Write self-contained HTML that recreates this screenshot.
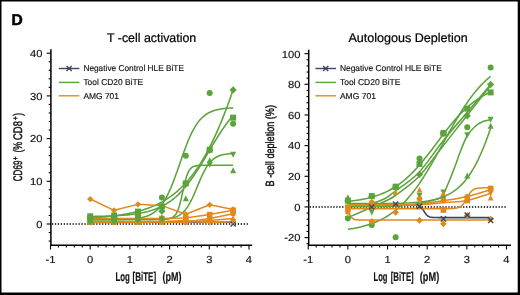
<!DOCTYPE html>
<html><head><meta charset="utf-8"><style>
html,body{margin:0;padding:0;background:#fff;}
svg{display:block;will-change:transform;}
text{font-family:"Liberation Sans",sans-serif;fill:#111;stroke:#111;stroke-width:0.15px;text-rendering:geometricPrecision;}
.nb{stroke-width:0;}
.md{stroke-width:0.45px;}
.dd{fill:#000;stroke:#000;stroke-width:0.55px;}
</style></head><body>
<svg width="520" height="295" viewBox="0 0 520 295">
<rect width="520" height="295" fill="#fff"/>
<path d="M0 0H520V295H0Z M1.5 1.5V292.6H517.7V1.5Z" fill="#000" fill-rule="evenodd"/>
<text x="11.50" y="25.10" font-size="15.60" font-weight="bold" class="dd">D</text>
<line x1="50.90" y1="49.30" x2="50.90" y2="246.05" stroke="#000" stroke-width="1.5"/>
<line x1="50.15" y1="245.30" x2="252.20" y2="245.30" stroke="#000" stroke-width="1.5"/>
<line x1="48.70" y1="241.08" x2="50.90" y2="241.08" stroke="#000" stroke-width="1.1"/>
<line x1="48.70" y1="232.54" x2="50.90" y2="232.54" stroke="#000" stroke-width="1.1"/>
<line x1="46.70" y1="224.00" x2="50.90" y2="224.00" stroke="#000" stroke-width="1.1"/>
<line x1="48.70" y1="215.46" x2="50.90" y2="215.46" stroke="#000" stroke-width="1.1"/>
<line x1="48.70" y1="206.92" x2="50.90" y2="206.92" stroke="#000" stroke-width="1.1"/>
<line x1="48.70" y1="198.38" x2="50.90" y2="198.38" stroke="#000" stroke-width="1.1"/>
<line x1="48.70" y1="189.84" x2="50.90" y2="189.84" stroke="#000" stroke-width="1.1"/>
<line x1="46.70" y1="181.30" x2="50.90" y2="181.30" stroke="#000" stroke-width="1.1"/>
<line x1="48.70" y1="172.76" x2="50.90" y2="172.76" stroke="#000" stroke-width="1.1"/>
<line x1="48.70" y1="164.22" x2="50.90" y2="164.22" stroke="#000" stroke-width="1.1"/>
<line x1="48.70" y1="155.68" x2="50.90" y2="155.68" stroke="#000" stroke-width="1.1"/>
<line x1="48.70" y1="147.14" x2="50.90" y2="147.14" stroke="#000" stroke-width="1.1"/>
<line x1="46.70" y1="138.60" x2="50.90" y2="138.60" stroke="#000" stroke-width="1.1"/>
<line x1="48.70" y1="130.06" x2="50.90" y2="130.06" stroke="#000" stroke-width="1.1"/>
<line x1="48.70" y1="121.52" x2="50.90" y2="121.52" stroke="#000" stroke-width="1.1"/>
<line x1="48.70" y1="112.98" x2="50.90" y2="112.98" stroke="#000" stroke-width="1.1"/>
<line x1="48.70" y1="104.44" x2="50.90" y2="104.44" stroke="#000" stroke-width="1.1"/>
<line x1="46.70" y1="95.90" x2="50.90" y2="95.90" stroke="#000" stroke-width="1.1"/>
<line x1="48.70" y1="87.36" x2="50.90" y2="87.36" stroke="#000" stroke-width="1.1"/>
<line x1="48.70" y1="78.82" x2="50.90" y2="78.82" stroke="#000" stroke-width="1.1"/>
<line x1="48.70" y1="70.28" x2="50.90" y2="70.28" stroke="#000" stroke-width="1.1"/>
<line x1="48.70" y1="61.74" x2="50.90" y2="61.74" stroke="#000" stroke-width="1.1"/>
<line x1="46.70" y1="53.20" x2="50.90" y2="53.20" stroke="#000" stroke-width="1.1"/>
<line x1="50.50" y1="245.30" x2="50.50" y2="249.50" stroke="#000" stroke-width="1.1"/>
<line x1="58.44" y1="245.30" x2="58.44" y2="247.50" stroke="#000" stroke-width="1.1"/>
<line x1="66.38" y1="245.30" x2="66.38" y2="247.50" stroke="#000" stroke-width="1.1"/>
<line x1="74.32" y1="245.30" x2="74.32" y2="247.50" stroke="#000" stroke-width="1.1"/>
<line x1="82.26" y1="245.30" x2="82.26" y2="247.50" stroke="#000" stroke-width="1.1"/>
<line x1="90.20" y1="245.30" x2="90.20" y2="249.50" stroke="#000" stroke-width="1.1"/>
<line x1="98.14" y1="245.30" x2="98.14" y2="247.50" stroke="#000" stroke-width="1.1"/>
<line x1="106.08" y1="245.30" x2="106.08" y2="247.50" stroke="#000" stroke-width="1.1"/>
<line x1="114.02" y1="245.30" x2="114.02" y2="247.50" stroke="#000" stroke-width="1.1"/>
<line x1="121.96" y1="245.30" x2="121.96" y2="247.50" stroke="#000" stroke-width="1.1"/>
<line x1="129.90" y1="245.30" x2="129.90" y2="249.50" stroke="#000" stroke-width="1.1"/>
<line x1="137.84" y1="245.30" x2="137.84" y2="247.50" stroke="#000" stroke-width="1.1"/>
<line x1="145.78" y1="245.30" x2="145.78" y2="247.50" stroke="#000" stroke-width="1.1"/>
<line x1="153.72" y1="245.30" x2="153.72" y2="247.50" stroke="#000" stroke-width="1.1"/>
<line x1="161.66" y1="245.30" x2="161.66" y2="247.50" stroke="#000" stroke-width="1.1"/>
<line x1="169.60" y1="245.30" x2="169.60" y2="249.50" stroke="#000" stroke-width="1.1"/>
<line x1="177.54" y1="245.30" x2="177.54" y2="247.50" stroke="#000" stroke-width="1.1"/>
<line x1="185.48" y1="245.30" x2="185.48" y2="247.50" stroke="#000" stroke-width="1.1"/>
<line x1="193.42" y1="245.30" x2="193.42" y2="247.50" stroke="#000" stroke-width="1.1"/>
<line x1="201.36" y1="245.30" x2="201.36" y2="247.50" stroke="#000" stroke-width="1.1"/>
<line x1="209.30" y1="245.30" x2="209.30" y2="249.50" stroke="#000" stroke-width="1.1"/>
<line x1="217.24" y1="245.30" x2="217.24" y2="247.50" stroke="#000" stroke-width="1.1"/>
<line x1="225.18" y1="245.30" x2="225.18" y2="247.50" stroke="#000" stroke-width="1.1"/>
<line x1="233.12" y1="245.30" x2="233.12" y2="247.50" stroke="#000" stroke-width="1.1"/>
<line x1="241.06" y1="245.30" x2="241.06" y2="247.50" stroke="#000" stroke-width="1.1"/>
<line x1="249.00" y1="245.30" x2="249.00" y2="249.50" stroke="#000" stroke-width="1.1"/>
<line x1="51.90" y1="224.10" x2="249.00" y2="224.10" stroke="#000" stroke-width="1.5" stroke-dasharray="1.3 1.65"/>
<line x1="308.70" y1="49.75" x2="308.70" y2="246.05" stroke="#000" stroke-width="1.5"/>
<line x1="307.95" y1="245.30" x2="511.00" y2="245.30" stroke="#000" stroke-width="1.5"/>
<line x1="306.50" y1="243.74" x2="308.70" y2="243.74" stroke="#000" stroke-width="1.1"/>
<line x1="304.50" y1="237.61" x2="308.70" y2="237.61" stroke="#000" stroke-width="1.1"/>
<line x1="306.50" y1="231.48" x2="308.70" y2="231.48" stroke="#000" stroke-width="1.1"/>
<line x1="306.50" y1="225.35" x2="308.70" y2="225.35" stroke="#000" stroke-width="1.1"/>
<line x1="306.50" y1="219.21" x2="308.70" y2="219.21" stroke="#000" stroke-width="1.1"/>
<line x1="306.50" y1="213.08" x2="308.70" y2="213.08" stroke="#000" stroke-width="1.1"/>
<line x1="304.50" y1="206.95" x2="308.70" y2="206.95" stroke="#000" stroke-width="1.1"/>
<line x1="306.50" y1="200.82" x2="308.70" y2="200.82" stroke="#000" stroke-width="1.1"/>
<line x1="306.50" y1="194.69" x2="308.70" y2="194.69" stroke="#000" stroke-width="1.1"/>
<line x1="306.50" y1="188.55" x2="308.70" y2="188.55" stroke="#000" stroke-width="1.1"/>
<line x1="306.50" y1="182.42" x2="308.70" y2="182.42" stroke="#000" stroke-width="1.1"/>
<line x1="304.50" y1="176.29" x2="308.70" y2="176.29" stroke="#000" stroke-width="1.1"/>
<line x1="306.50" y1="170.16" x2="308.70" y2="170.16" stroke="#000" stroke-width="1.1"/>
<line x1="306.50" y1="164.03" x2="308.70" y2="164.03" stroke="#000" stroke-width="1.1"/>
<line x1="306.50" y1="157.89" x2="308.70" y2="157.89" stroke="#000" stroke-width="1.1"/>
<line x1="306.50" y1="151.76" x2="308.70" y2="151.76" stroke="#000" stroke-width="1.1"/>
<line x1="304.50" y1="145.63" x2="308.70" y2="145.63" stroke="#000" stroke-width="1.1"/>
<line x1="306.50" y1="139.50" x2="308.70" y2="139.50" stroke="#000" stroke-width="1.1"/>
<line x1="306.50" y1="133.37" x2="308.70" y2="133.37" stroke="#000" stroke-width="1.1"/>
<line x1="306.50" y1="127.23" x2="308.70" y2="127.23" stroke="#000" stroke-width="1.1"/>
<line x1="306.50" y1="121.10" x2="308.70" y2="121.10" stroke="#000" stroke-width="1.1"/>
<line x1="304.50" y1="114.97" x2="308.70" y2="114.97" stroke="#000" stroke-width="1.1"/>
<line x1="306.50" y1="108.84" x2="308.70" y2="108.84" stroke="#000" stroke-width="1.1"/>
<line x1="306.50" y1="102.71" x2="308.70" y2="102.71" stroke="#000" stroke-width="1.1"/>
<line x1="306.50" y1="96.57" x2="308.70" y2="96.57" stroke="#000" stroke-width="1.1"/>
<line x1="306.50" y1="90.44" x2="308.70" y2="90.44" stroke="#000" stroke-width="1.1"/>
<line x1="304.50" y1="84.31" x2="308.70" y2="84.31" stroke="#000" stroke-width="1.1"/>
<line x1="306.50" y1="78.18" x2="308.70" y2="78.18" stroke="#000" stroke-width="1.1"/>
<line x1="306.50" y1="72.05" x2="308.70" y2="72.05" stroke="#000" stroke-width="1.1"/>
<line x1="306.50" y1="65.91" x2="308.70" y2="65.91" stroke="#000" stroke-width="1.1"/>
<line x1="306.50" y1="59.78" x2="308.70" y2="59.78" stroke="#000" stroke-width="1.1"/>
<line x1="304.50" y1="53.65" x2="308.70" y2="53.65" stroke="#000" stroke-width="1.1"/>
<line x1="308.25" y1="245.30" x2="308.25" y2="249.50" stroke="#000" stroke-width="1.1"/>
<line x1="316.18" y1="245.30" x2="316.18" y2="247.50" stroke="#000" stroke-width="1.1"/>
<line x1="324.11" y1="245.30" x2="324.11" y2="247.50" stroke="#000" stroke-width="1.1"/>
<line x1="332.04" y1="245.30" x2="332.04" y2="247.50" stroke="#000" stroke-width="1.1"/>
<line x1="339.97" y1="245.30" x2="339.97" y2="247.50" stroke="#000" stroke-width="1.1"/>
<line x1="347.90" y1="245.30" x2="347.90" y2="249.50" stroke="#000" stroke-width="1.1"/>
<line x1="355.83" y1="245.30" x2="355.83" y2="247.50" stroke="#000" stroke-width="1.1"/>
<line x1="363.76" y1="245.30" x2="363.76" y2="247.50" stroke="#000" stroke-width="1.1"/>
<line x1="371.69" y1="245.30" x2="371.69" y2="247.50" stroke="#000" stroke-width="1.1"/>
<line x1="379.62" y1="245.30" x2="379.62" y2="247.50" stroke="#000" stroke-width="1.1"/>
<line x1="387.55" y1="245.30" x2="387.55" y2="249.50" stroke="#000" stroke-width="1.1"/>
<line x1="395.48" y1="245.30" x2="395.48" y2="247.50" stroke="#000" stroke-width="1.1"/>
<line x1="403.41" y1="245.30" x2="403.41" y2="247.50" stroke="#000" stroke-width="1.1"/>
<line x1="411.34" y1="245.30" x2="411.34" y2="247.50" stroke="#000" stroke-width="1.1"/>
<line x1="419.27" y1="245.30" x2="419.27" y2="247.50" stroke="#000" stroke-width="1.1"/>
<line x1="427.20" y1="245.30" x2="427.20" y2="249.50" stroke="#000" stroke-width="1.1"/>
<line x1="435.13" y1="245.30" x2="435.13" y2="247.50" stroke="#000" stroke-width="1.1"/>
<line x1="443.06" y1="245.30" x2="443.06" y2="247.50" stroke="#000" stroke-width="1.1"/>
<line x1="450.99" y1="245.30" x2="450.99" y2="247.50" stroke="#000" stroke-width="1.1"/>
<line x1="458.92" y1="245.30" x2="458.92" y2="247.50" stroke="#000" stroke-width="1.1"/>
<line x1="466.85" y1="245.30" x2="466.85" y2="249.50" stroke="#000" stroke-width="1.1"/>
<line x1="474.78" y1="245.30" x2="474.78" y2="247.50" stroke="#000" stroke-width="1.1"/>
<line x1="482.71" y1="245.30" x2="482.71" y2="247.50" stroke="#000" stroke-width="1.1"/>
<line x1="490.64" y1="245.30" x2="490.64" y2="247.50" stroke="#000" stroke-width="1.1"/>
<line x1="498.57" y1="245.30" x2="498.57" y2="247.50" stroke="#000" stroke-width="1.1"/>
<line x1="506.50" y1="245.30" x2="506.50" y2="249.50" stroke="#000" stroke-width="1.1"/>
<line x1="309.70" y1="207.05" x2="506.50" y2="207.05" stroke="#000" stroke-width="1.5" stroke-dasharray="1.3 1.65"/>
<text x="36.37" y="227.85" font-size="10.20" textLength="6.23" lengthAdjust="spacingAndGlyphs">0</text>
<text x="30.14" y="185.15" font-size="10.20" textLength="12.46" lengthAdjust="spacingAndGlyphs">10</text>
<text x="30.14" y="142.45" font-size="10.20" textLength="12.46" lengthAdjust="spacingAndGlyphs">20</text>
<text x="30.14" y="99.75" font-size="10.20" textLength="12.46" lengthAdjust="spacingAndGlyphs">30</text>
<text x="30.14" y="57.05" font-size="10.20" textLength="12.46" lengthAdjust="spacingAndGlyphs">40</text>
<text x="284.21" y="241.46" font-size="10.20" textLength="16.19" lengthAdjust="spacingAndGlyphs">-20</text>
<text x="294.17" y="210.80" font-size="10.20" textLength="6.23" lengthAdjust="spacingAndGlyphs">0</text>
<text x="287.94" y="180.14" font-size="10.20" textLength="12.46" lengthAdjust="spacingAndGlyphs">20</text>
<text x="287.94" y="149.48" font-size="10.20" textLength="12.46" lengthAdjust="spacingAndGlyphs">40</text>
<text x="287.94" y="118.82" font-size="10.20" textLength="12.46" lengthAdjust="spacingAndGlyphs">60</text>
<text x="287.94" y="88.16" font-size="10.20" textLength="12.46" lengthAdjust="spacingAndGlyphs">80</text>
<text x="281.71" y="57.50" font-size="10.20" textLength="18.69" lengthAdjust="spacingAndGlyphs">100</text>
<text x="45.52" y="263.10" font-size="10.20" textLength="9.96" lengthAdjust="spacingAndGlyphs">-1</text>
<text x="303.27" y="263.10" font-size="10.20" textLength="9.96" lengthAdjust="spacingAndGlyphs">-1</text>
<text x="87.09" y="263.10" font-size="10.20" textLength="6.23" lengthAdjust="spacingAndGlyphs">0</text>
<text x="344.79" y="263.10" font-size="10.20" textLength="6.23" lengthAdjust="spacingAndGlyphs">0</text>
<text x="126.79" y="263.10" font-size="10.20" textLength="6.23" lengthAdjust="spacingAndGlyphs">1</text>
<text x="384.44" y="263.10" font-size="10.20" textLength="6.23" lengthAdjust="spacingAndGlyphs">1</text>
<text x="166.49" y="263.10" font-size="10.20" textLength="6.23" lengthAdjust="spacingAndGlyphs">2</text>
<text x="424.09" y="263.10" font-size="10.20" textLength="6.23" lengthAdjust="spacingAndGlyphs">2</text>
<text x="206.19" y="263.10" font-size="10.20" textLength="6.23" lengthAdjust="spacingAndGlyphs">3</text>
<text x="463.74" y="263.10" font-size="10.20" textLength="6.23" lengthAdjust="spacingAndGlyphs">3</text>
<text x="245.89" y="263.10" font-size="10.20" textLength="6.23" lengthAdjust="spacingAndGlyphs">4</text>
<text x="503.39" y="263.10" font-size="10.20" textLength="6.23" lengthAdjust="spacingAndGlyphs">4</text>
<text x="107.00" y="42.20" font-size="12.50" textLength="89.20" lengthAdjust="spacingAndGlyphs" style="stroke-width:0.22px;fill:#000;stroke:#000">T -cell activation</text>
<text x="348.40" y="42.20" font-size="12.50" textLength="119.40" lengthAdjust="spacingAndGlyphs" style="stroke-width:0.22px;fill:#000;stroke:#000">Autologous Depletion</text>
<text x="115.40" y="280.60" font-size="12.70" textLength="14.40" lengthAdjust="spacingAndGlyphs" font-weight="bold">Log</text>
<text x="132.60" y="280.60" font-size="12.70" textLength="23.50" lengthAdjust="spacingAndGlyphs" font-weight="bold">[BiTE]</text>
<text x="162.40" y="280.60" font-size="12.70" textLength="19.00" lengthAdjust="spacingAndGlyphs" font-weight="bold">(pM)</text>
<text x="373.50" y="280.60" font-size="12.70" textLength="14.00" lengthAdjust="spacingAndGlyphs" font-weight="bold">Log</text>
<text x="390.70" y="280.60" font-size="12.70" textLength="23.00" lengthAdjust="spacingAndGlyphs" font-weight="bold">[BiTE]</text>
<text x="419.80" y="280.60" font-size="12.70" textLength="19.40" lengthAdjust="spacingAndGlyphs" font-weight="bold">(pM)</text>
<g transform="translate(21.9,181.2) rotate(-90)" font-size="12.4">
<text class="md" x="0" y="0" textLength="20.6" lengthAdjust="spacingAndGlyphs">CD69</text>
<text class="md" x="21.0" y="-3.8" font-size="8" textLength="3.6" lengthAdjust="spacingAndGlyphs">+</text>
<text class="md" x="28.6" y="0" textLength="10.8" lengthAdjust="spacingAndGlyphs">(%</text>
<text class="md" x="41.2" y="0" textLength="18.9" lengthAdjust="spacingAndGlyphs">CD8</text>
<text class="md" x="61.2" y="-3.8" font-size="8" textLength="3.6" lengthAdjust="spacingAndGlyphs">+</text>
<text class="md" x="65.4" y="0" textLength="2.9" lengthAdjust="spacingAndGlyphs">)</text>
</g>
<text transform="translate(273.9,186.4) rotate(-90)" font-size="12.0" class="md" textLength="81.4" lengthAdjust="spacingAndGlyphs">B -cell depletion (%)</text>
<polyline points="58.80,68.50 79.40,68.50" fill="none" stroke="#3d4560" stroke-width="1.4" stroke-linejoin="round"/>
<path d="M66.50 65.90L71.70 71.10M66.50 71.10L71.70 65.90" stroke="#3d4560" stroke-width="1.4" fill="none"/>
<polyline points="58.80,82.40 79.40,82.40" fill="none" stroke="#5ba33b" stroke-width="1.4" stroke-linejoin="round"/>
<polyline points="58.80,95.80 79.40,95.80" fill="none" stroke="#e0891c" stroke-width="1.4" stroke-linejoin="round"/>
<text x="83.40" y="71.10" font-size="8.50" textLength="100.60" lengthAdjust="spacingAndGlyphs">Negative Control HLE BiTE</text>
<text x="83.40" y="85.00" font-size="8.50" textLength="59.80" lengthAdjust="spacingAndGlyphs">Tool CD20 BiTE</text>
<text x="83.40" y="98.60" font-size="8.50" textLength="35.60" lengthAdjust="spacingAndGlyphs">AMG 701</text>
<polyline points="315.40,68.50 336.00,68.50" fill="none" stroke="#3d4560" stroke-width="1.4" stroke-linejoin="round"/>
<path d="M323.10 65.90L328.30 71.10M323.10 71.10L328.30 65.90" stroke="#3d4560" stroke-width="1.4" fill="none"/>
<polyline points="315.40,82.40 336.00,82.40" fill="none" stroke="#5ba33b" stroke-width="1.4" stroke-linejoin="round"/>
<polyline points="315.40,95.80 336.00,95.80" fill="none" stroke="#e0891c" stroke-width="1.4" stroke-linejoin="round"/>
<text x="339.90" y="71.10" font-size="8.50" textLength="102.00" lengthAdjust="spacingAndGlyphs">Negative Control HLE BiTE</text>
<text x="339.90" y="85.00" font-size="8.50" textLength="60.60" lengthAdjust="spacingAndGlyphs">Tool CD20 BiTE</text>
<text x="339.90" y="98.60" font-size="8.50" textLength="36.00" lengthAdjust="spacingAndGlyphs">AMG 701</text>
<polyline points="90.20,222.08 114.10,222.08 138.00,222.08 161.90,222.08 185.80,222.08 209.70,222.08 233.12,222.08" fill="none" stroke="#3d4560" stroke-width="1.4" stroke-linejoin="round"/>
<polyline points="90.20,219.72 91.99,219.72 93.77,219.71 95.56,219.71 97.35,219.71 99.13,219.70 100.92,219.70 102.71,219.69 104.49,219.68 106.28,219.67 108.06,219.66 109.85,219.65 111.64,219.63 113.42,219.61 115.21,219.59 117.00,219.56 118.78,219.52 120.57,219.48 122.36,219.43 124.14,219.37 125.93,219.30 127.72,219.21 129.50,219.11 131.29,218.98 133.08,218.83 134.86,218.66 136.65,218.44 138.44,218.18 140.22,217.87 142.01,217.51 143.80,217.07 145.58,216.54 147.37,215.92 149.15,215.18 150.94,214.30 152.73,213.26 154.51,212.04 156.30,210.61 158.09,208.94 159.87,207.01 161.66,204.77 163.45,202.22 165.23,199.31 167.02,196.05 168.81,192.42 170.59,188.43 172.38,184.10 174.17,179.47 175.95,174.60 177.74,169.54 179.53,164.38 181.31,159.22 183.10,154.12 184.88,149.18 186.67,144.47 188.46,140.04 190.24,135.94 192.03,132.20 193.82,128.82 195.60,125.81 197.39,123.15 199.18,120.81 200.96,118.79 202.75,117.04 204.54,115.54 206.32,114.25 208.11,113.16 209.90,112.24 211.68,111.46 213.47,110.80 215.25,110.25 217.04,109.78 218.83,109.39 220.61,109.07 222.40,108.79 224.19,108.57 225.97,108.38 227.76,108.22 229.55,108.09 231.33,107.98 233.12,107.88" fill="none" stroke="#5ba33b" stroke-width="1.55" stroke-linejoin="round"/>
<polyline points="90.20,217.93 91.99,217.82 93.77,217.71 95.56,217.59 97.35,217.46 99.13,217.33 100.92,217.18 102.71,217.03 104.49,216.87 106.28,216.70 108.06,216.52 109.85,216.33 111.64,216.13 113.42,215.92 115.21,215.69 117.00,215.46 118.78,215.20 120.57,214.94 122.36,214.65 124.14,214.35 125.93,214.04 127.72,213.70 129.50,213.35 131.29,212.97 133.08,212.57 134.86,212.15 136.65,211.71 138.44,211.24 140.22,210.74 142.01,210.22 143.80,209.67 145.58,209.08 147.37,208.46 149.15,207.81 150.94,207.11 152.73,206.38 154.51,205.61 156.30,204.80 158.09,203.94 159.87,203.04 161.66,202.08 163.45,201.07 165.23,200.01 167.02,198.89 168.81,197.71 170.59,196.47 172.38,195.16 174.17,193.78 175.95,192.33 177.74,190.80 179.53,189.20 181.31,187.52 183.10,185.75 184.88,183.89 186.67,181.94 188.46,179.89 190.24,177.75 192.03,175.50 193.82,173.15 195.60,170.69 197.39,168.12 199.18,165.43 200.96,162.63 202.75,159.70 204.54,156.65 206.32,153.47 208.11,150.17 209.90,146.73 211.68,143.16 213.47,139.45 215.25,135.61 217.04,131.63 218.83,127.52 220.61,123.26 222.40,118.88 224.19,114.35 225.97,109.70 227.76,104.91 229.55,99.99 231.33,94.95 233.12,89.79" fill="none" stroke="#5ba33b" stroke-width="1.55" stroke-linejoin="round"/>
<polyline points="90.20,216.47 91.99,216.45 93.77,216.42 95.56,216.39 97.35,216.35 99.13,216.31 100.92,216.27 102.71,216.23 104.49,216.18 106.28,216.12 108.06,216.06 109.85,215.99 111.64,215.92 113.42,215.84 115.21,215.76 117.00,215.66 118.78,215.56 120.57,215.44 122.36,215.32 124.14,215.18 125.93,215.03 127.72,214.86 129.50,214.68 131.29,214.48 133.08,214.27 134.86,214.03 136.65,213.77 138.44,213.49 140.22,213.18 142.01,212.84 143.80,212.47 145.58,212.07 147.37,211.63 149.15,211.15 150.94,210.63 152.73,210.07 154.51,209.45 156.30,208.78 158.09,208.06 159.87,207.27 161.66,206.42 163.45,205.50 165.23,204.50 167.02,203.43 168.81,202.27 170.59,201.03 172.38,199.70 174.17,198.27 175.95,196.74 177.74,195.12 179.53,193.38 181.31,191.55 183.10,189.60 184.88,187.55 186.67,185.38 188.46,183.12 190.24,180.74 192.03,178.27 193.82,175.70 195.60,173.05 197.39,170.31 199.18,167.50 200.96,164.62 202.75,161.70 204.54,158.73 206.32,155.73 208.11,152.72 209.90,149.71 211.68,146.70 213.47,143.72 215.25,140.77 217.04,137.87 218.83,135.03 220.61,132.26 222.40,129.57 224.19,126.96 225.97,124.44 227.76,122.03 229.55,119.71 231.33,117.50 233.12,115.40" fill="none" stroke="#5ba33b" stroke-width="1.55" stroke-linejoin="round"/>
<polyline points="90.20,219.73 91.99,219.73 93.77,219.73 95.56,219.73 97.35,219.73 99.13,219.73 100.92,219.73 102.71,219.73 104.49,219.73 106.28,219.73 108.06,219.73 109.85,219.73 111.64,219.73 113.42,219.73 115.21,219.73 117.00,219.73 118.78,219.73 120.57,219.73 122.36,219.73 124.14,219.73 125.93,219.73 127.72,219.73 129.50,219.73 131.29,219.73 133.08,219.72 134.86,219.72 136.65,219.72 138.44,219.72 140.22,219.71 142.01,219.71 143.80,219.70 145.58,219.69 147.37,219.68 149.15,219.67 150.94,219.65 152.73,219.63 154.51,219.60 156.30,219.56 158.09,219.51 159.87,219.44 161.66,219.36 163.45,219.25 165.23,219.11 167.02,218.93 168.81,218.69 170.59,218.39 172.38,218.00 174.17,217.51 175.95,216.88 177.74,216.09 179.53,215.08 181.31,213.83 183.10,212.28 184.88,210.39 186.67,208.11 188.46,205.41 190.24,202.28 192.03,198.75 193.82,194.86 195.60,190.71 197.39,186.42 199.18,182.13 200.96,177.98 202.75,174.10 204.54,170.56 206.32,167.44 208.11,164.74 209.90,162.46 211.68,160.57 213.47,159.02 215.25,157.76 217.04,156.76 218.83,155.97 220.61,155.34 222.40,154.84 224.19,154.46 225.97,154.16 227.76,153.92 229.55,153.74 231.33,153.60 233.12,153.49" fill="none" stroke="#5ba33b" stroke-width="1.55" stroke-linejoin="round"/>
<polyline points="90.20,218.88 91.99,218.88 93.77,218.88 95.56,218.88 97.35,218.88 99.13,218.88 100.92,218.88 102.71,218.88 104.49,218.88 106.28,218.88 108.06,218.88 109.85,218.88 111.64,218.88 113.42,218.88 115.21,218.88 117.00,218.88 118.78,218.88 120.57,218.88 122.36,218.88 124.14,218.88 125.93,218.88 127.72,218.88 129.50,218.88 131.29,218.88 133.08,218.88 134.86,218.88 136.65,218.88 138.44,218.88 140.22,218.88 142.01,218.88 143.80,218.88 145.58,218.88 147.37,218.88 149.15,218.88 150.94,218.88 152.73,218.87 154.51,218.87 156.30,218.87 158.09,218.87 159.87,218.86 161.66,218.84 163.45,218.81 165.23,218.75 167.02,218.65 168.81,218.45 170.59,218.09 172.38,217.44 174.17,216.26 175.95,214.20 177.74,210.79 179.53,205.55 181.31,198.44 183.10,190.23 184.88,182.36 186.67,176.05 188.46,171.66 190.24,168.91 192.03,167.29 193.82,166.38 195.60,165.88 197.39,165.61 199.18,165.46 200.96,165.38 202.75,165.34 204.54,165.31 206.32,165.30 208.11,165.30 209.90,165.29 211.68,165.29 213.47,165.29 215.25,165.29 217.04,165.29 218.83,165.29 220.61,165.29 222.40,165.29 224.19,165.29 225.97,165.29 227.76,165.29 229.55,165.29 231.33,165.29 233.12,165.29" fill="none" stroke="#5ba33b" stroke-width="1.55" stroke-linejoin="round"/>
<polyline points="90.20,218.62 114.10,218.62 138.00,218.45 161.90,218.45 185.80,218.02 209.70,214.61 233.12,210.34" fill="none" stroke="#e0891c" stroke-width="1.5" stroke-linejoin="round"/>
<polyline points="90.20,222.29 114.10,222.29 138.00,222.29 161.90,222.08 185.80,221.87 209.70,218.45 233.12,213.75" fill="none" stroke="#e0891c" stroke-width="1.5" stroke-linejoin="round"/>
<polyline points="90.20,222.72 114.10,222.72 138.00,222.51 161.90,222.29 185.80,222.08 209.70,220.58 233.12,218.45" fill="none" stroke="#e0891c" stroke-width="1.5" stroke-linejoin="round"/>
<polyline points="90.20,221.87 114.10,221.87 138.00,221.87 161.90,221.44 185.80,220.58 209.70,222.72 233.12,221.44" fill="none" stroke="#e0891c" stroke-width="1.5" stroke-linejoin="round"/>
<polyline points="90.20,199.02 114.10,210.34 138.00,204.36 161.90,205.64 185.80,214.18 209.70,204.78 233.12,209.48" fill="none" stroke="#e0891c" stroke-width="1.5" stroke-linejoin="round"/>
<path d="M230.52 221.40L235.72 226.60M230.52 226.60L235.72 221.40" stroke="#3d4560" stroke-width="1.4" fill="none"/>
<rect x="87.40" y="215.82" width="5.60" height="5.60" fill="#e0891c"/>
<rect x="111.30" y="215.82" width="5.60" height="5.60" fill="#e0891c"/>
<rect x="135.20" y="215.65" width="5.60" height="5.60" fill="#e0891c"/>
<rect x="159.10" y="215.65" width="5.60" height="5.60" fill="#e0891c"/>
<rect x="183.00" y="215.22" width="5.60" height="5.60" fill="#e0891c"/>
<rect x="206.90" y="211.81" width="5.60" height="5.60" fill="#e0891c"/>
<rect x="230.32" y="207.54" width="5.60" height="5.60" fill="#e0891c"/>
<circle cx="90.20" cy="222.29" r="2.80" fill="#e0891c"/>
<circle cx="114.10" cy="222.29" r="2.80" fill="#e0891c"/>
<circle cx="138.00" cy="222.29" r="2.80" fill="#e0891c"/>
<circle cx="161.90" cy="222.08" r="2.80" fill="#e0891c"/>
<circle cx="185.80" cy="221.87" r="2.80" fill="#e0891c"/>
<circle cx="209.70" cy="218.45" r="2.80" fill="#e0891c"/>
<circle cx="233.12" cy="213.75" r="2.80" fill="#e0891c"/>
<path d="M90.20 219.50L93.00 225.10L87.40 225.10Z" fill="#e0891c"/>
<path d="M114.10 219.50L116.90 225.10L111.30 225.10Z" fill="#e0891c"/>
<path d="M138.00 219.29L140.80 224.89L135.20 224.89Z" fill="#e0891c"/>
<path d="M161.90 219.07L164.70 224.67L159.10 224.67Z" fill="#e0891c"/>
<path d="M185.80 218.86L188.60 224.46L183.00 224.46Z" fill="#e0891c"/>
<path d="M209.70 217.36L212.50 222.96L206.90 222.96Z" fill="#e0891c"/>
<path d="M233.12 215.23L235.92 220.83L230.32 220.83Z" fill="#e0891c"/>
<path d="M90.20 225.09L93.00 219.49L87.40 219.49Z" fill="#e0891c"/>
<path d="M114.10 225.09L116.90 219.49L111.30 219.49Z" fill="#e0891c"/>
<path d="M138.00 225.09L140.80 219.49L135.20 219.49Z" fill="#e0891c"/>
<path d="M161.90 224.66L164.70 219.06L159.10 219.06Z" fill="#e0891c"/>
<path d="M185.80 223.80L188.60 218.20L183.00 218.20Z" fill="#e0891c"/>
<path d="M209.70 225.94L212.50 220.34L206.90 220.34Z" fill="#e0891c"/>
<path d="M233.12 224.66L235.92 219.06L230.32 219.06Z" fill="#e0891c"/>
<path d="M90.20 195.90L93.32 199.02L90.20 202.14L87.08 199.02Z" fill="#e0891c"/>
<path d="M114.10 207.22L117.22 210.34L114.10 213.46L110.98 210.34Z" fill="#e0891c"/>
<path d="M138.00 201.24L141.12 204.36L138.00 207.48L134.88 204.36Z" fill="#e0891c"/>
<path d="M161.90 202.52L165.02 205.64L161.90 208.76L158.78 205.64Z" fill="#e0891c"/>
<path d="M185.80 211.06L188.92 214.18L185.80 217.30L182.68 214.18Z" fill="#e0891c"/>
<path d="M209.70 201.66L212.82 204.78L209.70 207.91L206.58 204.78Z" fill="#e0891c"/>
<path d="M233.12 206.36L236.24 209.48L233.12 212.60L230.00 209.48Z" fill="#e0891c"/>
<circle cx="90.20" cy="220.58" r="3.00" fill="#5ba33b"/>
<circle cx="114.10" cy="220.16" r="3.00" fill="#5ba33b"/>
<circle cx="138.00" cy="217.59" r="3.00" fill="#5ba33b"/>
<circle cx="161.90" cy="197.53" r="3.00" fill="#5ba33b"/>
<circle cx="185.80" cy="155.68" r="3.00" fill="#5ba33b"/>
<circle cx="209.70" cy="92.91" r="3.00" fill="#5ba33b"/>
<circle cx="233.12" cy="123.66" r="3.00" fill="#5ba33b"/>
<path d="M90.20 214.00L93.80 217.59L90.20 221.19L86.60 217.59Z" fill="#5ba33b"/>
<path d="M114.10 214.00L117.70 217.59L114.10 221.19L110.50 217.59Z" fill="#5ba33b"/>
<path d="M138.00 211.86L141.60 215.46L138.00 219.06L134.40 215.46Z" fill="#5ba33b"/>
<path d="M161.90 207.59L165.50 211.19L161.90 214.79L158.30 211.19Z" fill="#5ba33b"/>
<path d="M185.80 179.84L189.40 183.44L185.80 187.03L182.20 183.44Z" fill="#5ba33b"/>
<path d="M209.70 146.53L213.30 150.13L209.70 153.73L206.10 150.13Z" fill="#5ba33b"/>
<path d="M233.12 86.32L236.72 89.92L233.12 93.52L229.52 89.92Z" fill="#5ba33b"/>
<rect x="87.20" y="213.31" width="6.00" height="6.00" fill="#5ba33b"/>
<rect x="111.10" y="212.46" width="6.00" height="6.00" fill="#5ba33b"/>
<rect x="135.00" y="208.62" width="6.00" height="6.00" fill="#5ba33b"/>
<rect x="158.90" y="203.49" width="6.00" height="6.00" fill="#5ba33b"/>
<rect x="182.80" y="180.44" width="6.00" height="6.00" fill="#5ba33b"/>
<rect x="206.70" y="146.70" width="6.00" height="6.00" fill="#5ba33b"/>
<rect x="230.12" y="114.68" width="6.00" height="6.00" fill="#5ba33b"/>
<path d="M90.20 225.31L93.20 219.31L87.20 219.31Z" fill="#5ba33b"/>
<path d="M114.10 225.31L117.10 219.31L111.10 219.31Z" fill="#5ba33b"/>
<path d="M138.00 224.03L141.00 218.03L135.00 218.03Z" fill="#5ba33b"/>
<path d="M161.90 223.18L164.90 217.18L158.90 217.18Z" fill="#5ba33b"/>
<path d="M185.80 187.74L188.80 181.74L182.80 181.74Z" fill="#5ba33b"/>
<path d="M209.70 167.67L212.70 161.67L206.70 161.67Z" fill="#5ba33b"/>
<path d="M233.12 157.85L236.12 151.85L230.12 151.85Z" fill="#5ba33b"/>
<path d="M90.20 217.13L93.20 223.13L87.20 223.13Z" fill="#5ba33b"/>
<path d="M114.10 217.13L117.10 223.13L111.10 223.13Z" fill="#5ba33b"/>
<path d="M138.00 215.43L141.00 221.43L135.00 221.43Z" fill="#5ba33b"/>
<path d="M161.90 214.15L164.90 220.15L158.90 220.15Z" fill="#5ba33b"/>
<path d="M185.80 195.36L188.80 201.36L182.80 201.36Z" fill="#5ba33b"/>
<path d="M209.70 157.35L212.70 163.35L206.70 163.35Z" fill="#5ba33b"/>
<path d="M233.12 167.18L236.12 173.18L230.12 173.18Z" fill="#5ba33b"/>
<polyline points="347.90,204.96 349.68,204.96 351.47,204.96 353.25,204.96 355.04,204.96 356.82,204.96 358.61,204.96 360.39,204.96 362.17,204.96 363.96,204.96 365.74,204.96 367.53,204.96 369.31,204.96 371.10,204.96 372.88,204.96 374.66,204.96 376.45,204.96 378.23,204.96 380.02,204.96 381.80,204.96 383.58,204.96 385.37,204.96 387.15,204.96 388.94,204.96 390.72,204.96 392.51,204.96 394.29,204.96 396.07,204.96 397.86,204.96 399.64,204.96 401.43,204.96 403.21,204.96 405.00,204.96 406.78,204.96 408.56,204.96 410.35,204.97 412.13,204.98 413.92,205.02 415.70,205.12 417.49,205.36 419.27,205.93 421.05,207.16 422.84,209.38 424.62,212.26 426.41,214.77 428.19,216.32 429.98,217.06 431.76,217.39 433.54,217.52 435.33,217.57 437.11,217.59 438.90,217.60 440.68,217.60 442.47,217.60 444.25,217.60 446.03,217.60 447.82,217.60 449.60,217.60 451.39,217.60 453.17,217.60 454.95,217.60 456.74,217.60 458.52,217.60 460.31,217.60 462.09,217.60 463.88,217.60 465.66,217.60 467.44,217.60 469.23,217.60 471.01,217.60 472.80,217.60 474.58,217.60 476.37,217.60 478.15,217.60 479.93,217.60 481.72,217.60 483.50,217.60 485.29,217.60 487.07,217.60 488.86,217.60 490.64,217.60" fill="none" stroke="#3d4560" stroke-width="1.55" stroke-linejoin="round"/>
<polyline points="347.90,229.34 349.68,229.07 351.47,228.78 353.25,228.47 355.04,228.14 356.82,227.78 358.61,227.40 360.39,226.99 362.17,226.56 363.96,226.09 365.74,225.59 367.53,225.06 369.31,224.49 371.10,223.88 372.88,223.23 374.66,222.54 376.45,221.80 378.23,221.01 380.02,220.17 381.80,219.28 383.58,218.33 385.37,217.33 387.15,216.26 388.94,215.12 390.72,213.92 392.51,212.65 394.29,211.30 396.07,209.88 397.86,208.38 399.64,206.79 401.43,205.13 403.21,203.38 405.00,201.54 406.78,199.61 408.56,197.60 410.35,195.49 412.13,193.29 413.92,191.00 415.70,188.62 417.49,186.16 419.27,183.60 421.05,180.97 422.84,178.25 424.62,175.45 426.41,172.58 428.19,169.64 429.98,166.63 431.76,163.57 433.54,160.46 435.33,157.31 437.11,154.12 438.90,150.90 440.68,147.66 442.47,144.41 444.25,141.16 446.03,137.92 447.82,134.68 449.60,131.48 451.39,128.30 453.17,125.16 454.95,122.06 456.74,119.02 458.52,116.04 460.31,113.12 462.09,110.27 463.88,107.50 465.66,104.81 467.44,102.20 469.23,99.67 471.01,97.23 472.80,94.89 474.58,92.63 476.37,90.46 478.15,88.38 479.93,86.40 481.72,84.50 483.50,82.69 485.29,80.97 487.07,79.33 488.86,77.78 490.64,76.30" fill="none" stroke="#5ba33b" stroke-width="1.55" stroke-linejoin="round"/>
<polyline points="347.90,201.42 349.68,201.22 351.47,201.01 353.25,200.78 355.04,200.54 356.82,200.28 358.61,200.00 360.39,199.69 362.17,199.37 363.96,199.02 365.74,198.64 367.53,198.24 369.31,197.80 371.10,197.34 372.88,196.84 374.66,196.30 376.45,195.73 378.23,195.12 380.02,194.47 381.80,193.77 383.58,193.02 385.37,192.23 387.15,191.38 388.94,190.48 390.72,189.53 392.51,188.51 394.29,187.44 396.07,186.30 397.86,185.09 399.64,183.82 401.43,182.49 403.21,181.08 405.00,179.60 406.78,178.05 408.56,176.43 410.35,174.74 412.13,172.98 413.92,171.15 415.70,169.25 417.49,167.29 419.27,165.26 421.05,163.17 422.84,161.03 424.62,158.84 426.41,156.61 428.19,154.33 429.98,152.02 431.76,149.68 433.54,147.32 435.33,144.95 437.11,142.56 438.90,140.18 440.68,137.81 442.47,135.45 444.25,133.11 446.03,130.80 447.82,128.52 449.60,126.28 451.39,124.09 453.17,121.95 454.95,119.87 456.74,117.84 458.52,115.88 460.31,113.98 462.09,112.15 463.88,110.39 465.66,108.70 467.44,107.08 469.23,105.53 471.01,104.05 472.80,102.64 474.58,101.30 476.37,100.03 478.15,98.83 479.93,97.69 481.72,96.62 483.50,95.60 485.29,94.64 487.07,93.74 488.86,92.90 490.64,92.10" fill="none" stroke="#5ba33b" stroke-width="1.55" stroke-linejoin="round"/>
<path d="M347.90 203.40 C351.87 203.37 365.52 204.02 371.70 203.20 C377.88 202.38 381.05 200.53 385.00 198.50 C388.95 196.47 389.75 195.33 395.40 191.00 C401.05 186.67 410.97 180.83 418.90 172.50 C426.83 164.17 434.98 151.00 443.00 141.00 C451.02 131.00 459.05 121.93 467.00 112.50 C474.95 103.07 486.75 89.08 490.70 84.40" fill="none" stroke="#5ba33b" stroke-width="1.55" stroke-linejoin="round"/>
<path d="M347.90 217.60 C351.87 215.87 365.52 209.92 371.70 207.20 C377.88 204.48 381.05 203.25 385.00 201.30 C388.95 199.35 389.75 199.63 395.40 195.50 C401.05 191.37 410.97 184.75 418.90 176.50 C426.83 168.25 434.98 156.17 443.00 146.00 C451.02 135.83 459.05 125.58 467.00 115.50 C474.95 105.42 486.75 90.50 490.70 85.50" fill="none" stroke="#5ba33b" stroke-width="1.55" stroke-linejoin="round"/>
<polyline points="347.90,203.86 349.68,203.85 351.47,203.85 353.25,203.85 355.04,203.84 356.82,203.84 358.61,203.83 360.39,203.83 362.17,203.82 363.96,203.81 365.74,203.80 367.53,203.79 369.31,203.79 371.10,203.77 372.88,203.76 374.66,203.75 376.45,203.73 378.23,203.72 380.02,203.70 381.80,203.68 383.58,203.66 385.37,203.63 387.15,203.61 388.94,203.57 390.72,203.54 392.51,203.50 394.29,203.46 396.07,203.42 397.86,203.37 399.64,203.31 401.43,203.25 403.21,203.18 405.00,203.10 406.78,203.01 408.56,202.92 410.35,202.82 412.13,202.70 413.92,202.57 415.70,202.43 417.49,202.27 419.27,202.10 421.05,201.90 422.84,201.69 424.62,201.45 426.41,201.19 428.19,200.90 429.98,200.58 431.76,200.22 433.54,199.83 435.33,199.40 437.11,198.92 438.90,198.39 440.68,197.80 442.47,197.16 444.25,196.45 446.03,195.67 447.82,194.80 449.60,193.86 451.39,192.82 453.17,191.67 454.95,190.42 456.74,189.04 458.52,187.54 460.31,185.90 462.09,184.11 463.88,182.15 465.66,180.03 467.44,177.73 469.23,175.23 471.01,172.53 472.80,169.63 474.58,166.51 476.37,163.16 478.15,159.58 479.93,155.77 481.72,151.72 483.50,147.44 485.29,142.94 487.07,138.21 488.86,133.27 490.64,128.14" fill="none" stroke="#5ba33b" stroke-width="1.55" stroke-linejoin="round"/>
<path d="M347.90 206.50 C351.88 206.50 363.88 206.58 371.80 206.50 C379.72 206.42 387.45 206.52 395.40 206.00 C403.35 205.48 413.07 204.40 419.50 203.40 C425.93 202.40 430.28 201.15 434.00 200.00 C437.72 198.85 439.47 199.17 441.80 196.50 C444.13 193.83 445.72 189.25 448.00 184.00 C450.28 178.75 453.60 170.00 455.50 165.00 C457.40 160.00 457.52 158.75 459.40 154.00 C461.28 149.25 464.20 141.08 466.80 136.50 C469.40 131.92 472.30 129.00 475.00 126.50 C477.70 124.00 480.40 122.65 483.00 121.50 C485.60 120.35 489.33 119.92 490.60 119.60" fill="none" stroke="#5ba33b" stroke-width="1.55" stroke-linejoin="round"/>
<path d="M347.90 205.00 C351.87 205.00 363.75 205.03 371.70 205.00 C379.65 204.97 387.63 204.93 395.60 204.80 C403.57 204.67 411.27 204.92 419.50 204.20 C427.73 203.48 437.08 201.80 445.00 200.50 C452.92 199.20 459.33 198.23 467.00 196.40 C474.67 194.57 487.00 190.65 491.00 189.50" fill="none" stroke="#e0891c" stroke-width="1.55" stroke-linejoin="round"/>
<path d="M347.90 205.10 C351.87 205.10 363.75 205.12 371.70 205.10 C379.65 205.08 387.63 205.05 395.60 205.00 C403.57 204.95 411.27 205.20 419.50 204.80 C427.73 204.40 437.08 203.32 445.00 202.60 C452.92 201.88 459.33 202.05 467.00 200.50 C474.67 198.95 487.00 194.50 491.00 193.30" fill="none" stroke="#e0891c" stroke-width="1.55" stroke-linejoin="round"/>
<polyline points="347.90,208.64 349.68,208.64 351.47,208.64 353.25,208.64 355.04,208.64 356.82,208.64 358.61,208.64 360.39,208.64 362.17,208.64 363.96,208.64 365.74,208.64 367.53,208.64 369.31,208.64 371.10,208.64 372.88,208.64 374.66,208.64 376.45,208.64 378.23,208.64 380.02,208.64 381.80,208.64 383.58,208.64 385.37,208.64 387.15,208.64 388.94,208.64 390.72,208.64 392.51,208.64 394.29,208.64 396.07,208.64 397.86,208.64 399.64,208.64 401.43,208.64 403.21,208.64 405.00,208.64 406.78,208.64 408.56,208.64 410.35,208.64 412.13,208.64 413.92,208.64 415.70,208.64 417.49,208.64 419.27,208.64 421.05,208.64 422.84,208.64 424.62,208.64 426.41,208.64 428.19,208.64 429.98,208.64 431.76,208.64 433.54,208.64 435.33,208.64 437.11,208.64 438.90,208.64 440.68,208.63 442.47,208.63 444.25,208.63 446.03,208.62 447.82,208.61 449.60,208.59 451.39,208.54 453.17,208.46 454.95,208.31 456.74,208.04 458.52,207.55 460.31,206.70 462.09,205.30 463.88,203.18 465.66,200.34 467.44,197.14 469.23,194.12 471.01,191.75 472.80,190.12 474.58,189.11 476.37,188.52 478.15,188.19 479.93,188.00 481.72,187.90 483.50,187.85 485.29,187.82 487.07,187.81 488.86,187.80 490.64,187.79" fill="none" stroke="#e0891c" stroke-width="1.55" stroke-linejoin="round"/>
<polyline points="347.90,213.03 349.68,214.66 351.47,217.29 353.25,219.07 355.04,219.69 356.82,219.85 358.61,219.89 360.39,219.90 362.17,219.90 363.96,219.90 365.74,219.90 367.53,219.90 369.31,219.90 371.10,219.90 372.88,219.90 374.66,219.90 376.45,219.90 378.23,219.90 380.02,219.90 381.80,219.90 383.58,219.90 385.37,219.90 387.15,219.90 388.94,219.90 390.72,219.90 392.51,219.90 394.29,219.90 396.07,219.90 397.86,219.90 399.64,219.90 401.43,219.90 403.21,219.90 405.00,219.90 406.78,219.90 408.56,219.90 410.35,219.90 412.13,219.90 413.92,219.90 415.70,219.90 417.49,219.90 419.27,219.90 421.05,219.90 422.84,219.90 424.62,219.90 426.41,219.90 428.19,219.90 429.98,219.90 431.76,219.90 433.54,219.90 435.33,219.90 437.11,219.90 438.90,219.90 440.68,219.90 442.47,219.90 444.25,219.90 446.03,219.90 447.82,219.90 449.60,219.90 451.39,219.90 453.17,219.90 454.95,219.90 456.74,219.90 458.52,219.90 460.31,219.90 462.09,219.90 463.88,219.90 465.66,219.90 467.44,219.90 469.23,219.90 471.01,219.90 472.80,219.90 474.58,219.90 476.37,219.90 478.15,219.90 479.93,219.90 481.72,219.90 483.50,219.90 485.29,219.90 487.07,219.90 488.86,219.90 490.64,219.90" fill="none" stroke="#e0891c" stroke-width="1.55" stroke-linejoin="round"/>
<circle cx="347.90" cy="218.30" r="3.00" fill="#5ba33b"/>
<circle cx="371.77" cy="225.00" r="3.00" fill="#5ba33b"/>
<circle cx="395.64" cy="237.20" r="3.00" fill="#5ba33b"/>
<circle cx="419.51" cy="158.40" r="3.00" fill="#5ba33b"/>
<circle cx="443.38" cy="133.40" r="3.00" fill="#5ba33b"/>
<circle cx="467.25" cy="127.30" r="3.00" fill="#5ba33b"/>
<circle cx="490.64" cy="67.50" r="3.00" fill="#5ba33b"/>
<rect x="344.90" y="197.60" width="6.00" height="6.00" fill="#5ba33b"/>
<rect x="368.77" y="193.10" width="6.00" height="6.00" fill="#5ba33b"/>
<rect x="392.64" y="183.70" width="6.00" height="6.00" fill="#5ba33b"/>
<rect x="416.51" y="161.00" width="6.00" height="6.00" fill="#5ba33b"/>
<rect x="440.38" y="130.20" width="6.00" height="6.00" fill="#5ba33b"/>
<rect x="464.25" y="105.60" width="6.00" height="6.00" fill="#5ba33b"/>
<rect x="487.64" y="89.40" width="6.00" height="6.00" fill="#5ba33b"/>
<path d="M347.90 197.40L351.50 201.00L347.90 204.60L344.30 201.00Z" fill="#5ba33b"/>
<path d="M371.77 192.90L375.37 196.50L371.77 200.10L368.17 196.50Z" fill="#5ba33b"/>
<path d="M395.64 183.40L399.24 187.00L395.64 190.60L392.04 187.00Z" fill="#5ba33b"/>
<path d="M419.51 170.90L423.11 174.50L419.51 178.10L415.91 174.50Z" fill="#5ba33b"/>
<path d="M443.38 129.40L446.98 133.00L443.38 136.60L439.78 133.00Z" fill="#5ba33b"/>
<path d="M467.25 112.20L470.85 115.80L467.25 119.40L463.65 115.80Z" fill="#5ba33b"/>
<path d="M490.64 80.80L494.24 84.40L490.64 88.00L487.04 84.40Z" fill="#5ba33b"/>
<path d="M347.90 221.95L350.90 215.95L344.90 215.95Z" fill="#5ba33b"/>
<path d="M371.77 215.55L374.77 209.55L368.77 209.55Z" fill="#5ba33b"/>
<path d="M395.64 190.95L398.64 184.95L392.64 184.95Z" fill="#5ba33b"/>
<path d="M419.51 198.65L422.51 192.65L416.51 192.65Z" fill="#5ba33b"/>
<path d="M443.38 195.55L446.38 189.55L440.38 189.55Z" fill="#5ba33b"/>
<path d="M467.25 138.25L470.25 132.25L464.25 132.25Z" fill="#5ba33b"/>
<path d="M490.64 122.75L493.64 116.75L487.64 116.75Z" fill="#5ba33b"/>
<path d="M347.90 194.15L350.90 200.15L344.90 200.15Z" fill="#5ba33b"/>
<path d="M371.77 193.05L374.77 199.05L368.77 199.05Z" fill="#5ba33b"/>
<path d="M395.64 184.05L398.64 190.05L392.64 190.05Z" fill="#5ba33b"/>
<path d="M419.51 161.05L422.51 167.05L416.51 167.05Z" fill="#5ba33b"/>
<path d="M443.38 192.85L446.38 198.85L440.38 198.85Z" fill="#5ba33b"/>
<path d="M467.25 172.55L470.25 178.55L464.25 178.55Z" fill="#5ba33b"/>
<path d="M490.64 122.75L493.64 128.75L487.64 128.75Z" fill="#5ba33b"/>
<rect x="345.10" y="204.40" width="5.60" height="5.60" fill="#e0891c"/>
<rect x="440.58" y="207.20" width="5.60" height="5.60" fill="#e0891c"/>
<rect x="464.45" y="197.80" width="5.60" height="5.60" fill="#e0891c"/>
<rect x="487.84" y="185.70" width="5.60" height="5.60" fill="#e0891c"/>
<circle cx="347.90" cy="209.50" r="2.80" fill="#e0891c"/>
<circle cx="371.77" cy="202.50" r="2.80" fill="#e0891c"/>
<circle cx="419.51" cy="198.70" r="2.80" fill="#e0891c"/>
<circle cx="443.38" cy="200.50" r="2.80" fill="#e0891c"/>
<circle cx="467.25" cy="196.80" r="2.80" fill="#e0891c"/>
<circle cx="490.64" cy="188.50" r="2.80" fill="#e0891c"/>
<path d="M347.90 208.58L350.70 214.18L345.10 214.18Z" fill="#e0891c"/>
<path d="M395.64 189.28L398.44 194.88L392.84 194.88Z" fill="#e0891c"/>
<path d="M419.51 186.78L422.31 192.38L416.71 192.38Z" fill="#e0891c"/>
<path d="M443.38 190.38L446.18 195.98L440.58 195.98Z" fill="#e0891c"/>
<path d="M467.25 195.78L470.05 201.38L464.45 201.38Z" fill="#e0891c"/>
<path d="M490.64 194.78L493.44 200.38L487.84 200.38Z" fill="#e0891c"/>
<path d="M347.90 211.22L350.70 205.62L345.10 205.62Z" fill="#e0891c"/>
<path d="M371.77 210.82L374.57 205.22L368.97 205.22Z" fill="#e0891c"/>
<path d="M467.25 201.72L470.05 196.12L464.45 196.12Z" fill="#e0891c"/>
<path d="M490.64 196.52L493.44 190.92L487.84 190.92Z" fill="#e0891c"/>
<path d="M347.90 208.14L351.26 211.50L347.90 214.86L344.54 211.50Z" fill="#e0891c"/>
<path d="M371.77 218.24L375.13 221.60L371.77 224.96L368.41 221.60Z" fill="#e0891c"/>
<path d="M395.64 208.94L399.00 212.30L395.64 215.66L392.28 212.30Z" fill="#e0891c"/>
<path d="M419.51 217.04L422.87 220.40L419.51 223.76L416.15 220.40Z" fill="#e0891c"/>
<path d="M443.38 220.44L446.74 223.80L443.38 227.16L440.02 223.80Z" fill="#e0891c"/>
<path d="M467.25 212.14L470.61 215.50L467.25 218.86L463.89 215.50Z" fill="#e0891c"/>
<path d="M490.64 215.64L494.00 219.00L490.64 222.36L487.28 219.00Z" fill="#e0891c"/>
<path d="M369.17 204.40L374.37 209.60M369.17 209.60L374.37 204.40" stroke="#3d4560" stroke-width="1.4" fill="none"/>
<path d="M393.04 201.40L398.24 206.60M393.04 206.60L398.24 201.40" stroke="#3d4560" stroke-width="1.4" fill="none"/>
<path d="M416.91 203.70L422.11 208.90M416.91 208.90L422.11 203.70" stroke="#3d4560" stroke-width="1.4" fill="none"/>
<path d="M440.78 216.20L445.98 221.40M440.78 221.40L445.98 216.20" stroke="#3d4560" stroke-width="1.4" fill="none"/>
<path d="M464.65 212.40L469.85 217.60M464.65 217.60L469.85 212.40" stroke="#3d4560" stroke-width="1.4" fill="none"/>
<path d="M488.04 217.80L493.24 223.00M488.04 223.00L493.24 217.80" stroke="#3d4560" stroke-width="1.4" fill="none"/>
</svg>
</body></html>
